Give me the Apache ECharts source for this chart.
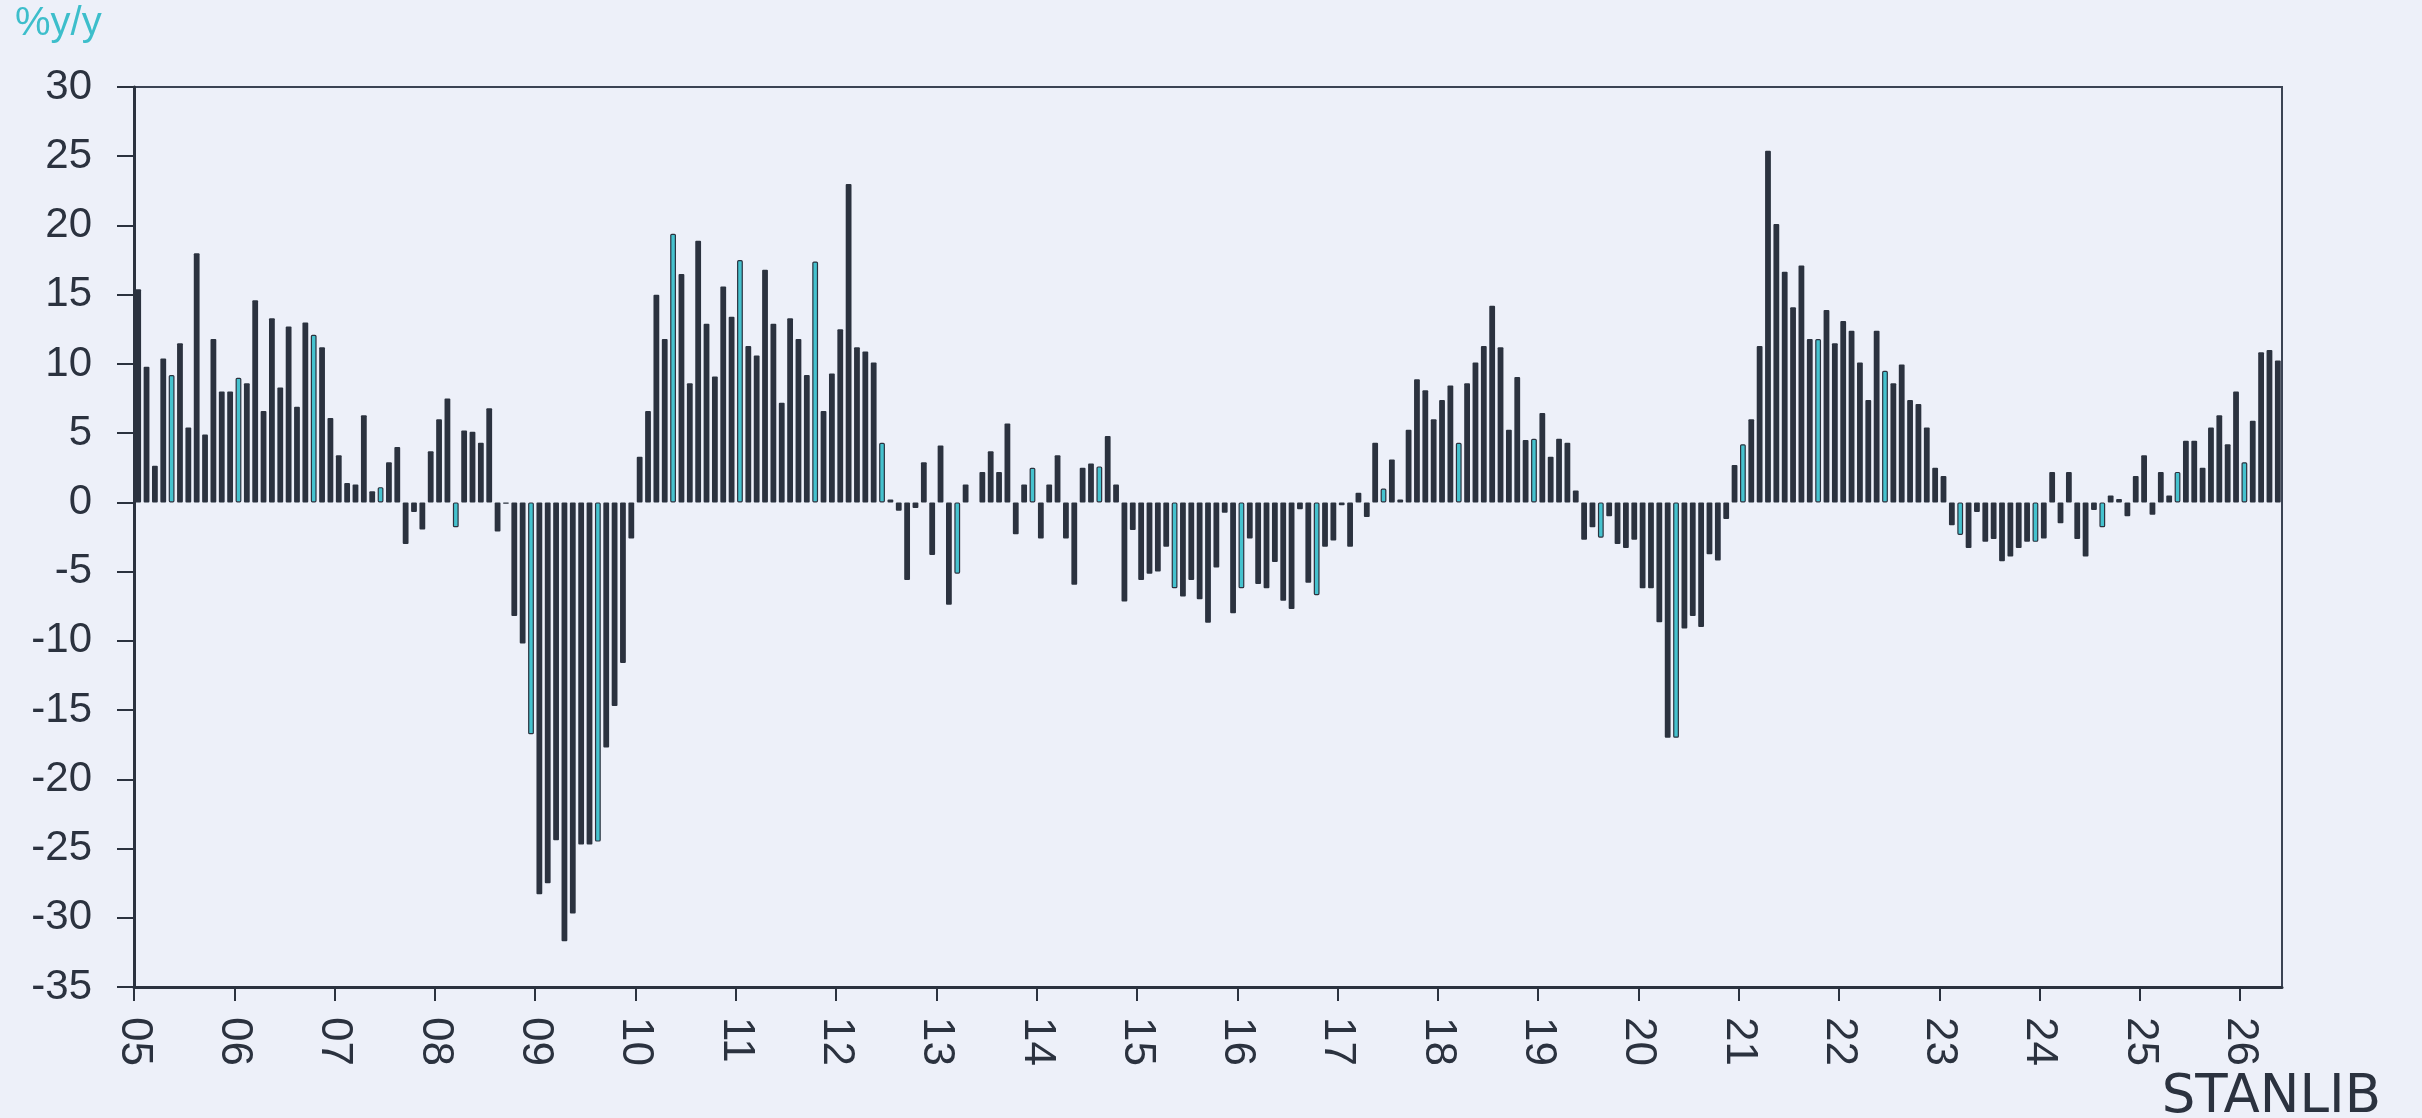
<!DOCTYPE html>
<html>
<head>
<meta charset="utf-8">
<script src="https://cdn.jsdelivr.net/npm/echarts@6/dist/echarts.min.js"></script>
<style>
  html, body { margin: 0; padding: 0; background: #edf0f9; }
  #chart { width: 2422px; height: 1118px; }
</style>
</head>
<body>
<div id="chart"></div>
<script>
// monthly %y/y, Jan 2005 - May 2026
const values = [
  15.4, 9.8, 2.65, 10.4, 9.2, 11.5, 5.4, 18.0, 4.9, 11.8, 8.0, 8.0,
  9.0, 8.6, 14.6, 6.6, 13.3, 8.3, 12.7, 6.9, 13.0, 12.1, 11.2, 6.1,
  3.4, 1.4, 1.3, 6.3, 0.8, 1.1, 2.9, 4.0, -3.0, -0.7, -1.95, 3.7,
  6.0, 7.5, -1.8, 5.2, 5.1, 4.3, 6.8, -2.1, -0.1, -8.2, -10.2, -16.75,
  -28.3, -27.5, -24.4, -31.7, -29.7, -24.7, -24.7, -24.5, -17.7, -14.7, -11.6, -2.6,
  3.3, 6.6, 15.0, 11.8, 19.4, 16.5, 8.6, 18.9, 12.9, 9.1, 15.6, 13.4,
  17.5, 11.3, 10.6, 16.8, 12.9, 7.2, 13.3, 11.8, 9.2, 17.4, 6.6, 9.3,
  12.5, 23.0, 11.2, 10.9, 10.1, 4.3, 0.2, -0.6, -5.6, -0.4, 2.9, -3.8,
  4.1, -7.4, -5.15, 1.3, 0, 2.2, 3.7, 2.2, 5.7, -2.3, 1.3, 2.5,
  -2.6, 1.3, 3.4, -2.6, -5.95, 2.5, 2.8, 2.6, 4.8, 1.3, -7.15, -2.0,
  -5.6, -5.15, -5.0, -3.2, -6.2, -6.8, -5.6, -7.0, -8.7, -4.7, -0.75, -8.0,
  -6.2, -2.6, -5.9, -6.2, -4.3, -7.1, -7.7, -0.5, -5.8, -6.7, -3.2, -2.75,
  -0.2, -3.2, 0.7, -1.05, 4.3, 1.0, 3.1, 0.2, 5.25, 8.9, 8.1, 6.0,
  7.4, 8.45, 4.3, 8.6, 10.1, 11.3, 14.2, 11.2, 5.25, 9.05, 4.5, 4.6,
  6.45, 3.3, 4.6, 4.3, 0.85, -2.7, -1.8, -2.55, -1.0, -3.0, -3.3, -2.7,
  -6.2, -6.2, -8.65, -17.0, -17.0, -9.1, -8.2, -9.0, -3.75, -4.2, -1.2, 2.7,
  4.2, 6.0, 11.3, 25.4, 20.1, 16.65, 14.1, 17.1, 11.8, 11.8, 13.9, 11.5,
  13.1, 12.4, 10.1, 7.4, 12.4, 9.5, 8.6, 9.95, 7.4, 7.1, 5.4, 2.5,
  1.9, -1.65, -2.35, -3.3, -0.7, -2.85, -2.65, -4.25, -3.9, -3.3, -2.85, -2.85,
  -2.6, 2.2, -1.5, 2.2, -2.65, -3.9, -0.55, -1.8, 0.5, 0.25, -1.0, 1.9,
  3.4, -0.9, 2.2, 0.5, 2.2, 4.45, 4.45, 2.5, 5.4, 6.3, 4.2, 8.0,
  2.9, 5.9, 10.85, 11.0, 10.25
];

// bars drawn in teal (month index from Jan 2005)
const highlighted = [4, 12, 21, 29, 38, 47, 55, 64, 72, 81, 89, 98, 107, 115, 124,
  132, 141, 149, 158, 167, 175, 184, 192, 201, 209, 218, 227, 235, 244, 252];

const yearLabels = ['05', '06', '07', '08', '09', '10', '11', '12', '13', '14', '15',
  '16', '17', '18', '19', '20', '21', '22', '23', '24', '25', '26'];

const yTicks = { min: -35, max: 30, step: 5 };

const dark = '#2b323f';
const teal = '#45c2ce';
const font = '"Liberation Sans", Arial, sans-serif';

const yearStarts = yearLabels.map((_, k) => k * 12);

const barData = values.map((v, i) => {
  const item = { value: [i + 0.5, v] };
  if (highlighted.indexOf(i) >= 0) {
    item.itemStyle = { color: teal, borderColor: dark, borderWidth: 1.2 };
  }
  return item;
});

const chart = echarts.init(document.getElementById('chart'), null, { renderer: 'canvas' });

chart.setOption({
  backgroundColor: '#edf0f9',
  animation: false,
  grid: {
    left: 134, right: 140, top: 87, bottom: 131,
    show: true,
    borderColor: '#3b4354',
    borderWidth: 2
  },
  graphic: [
    {
      type: 'text', left: 15, top: 4,
      style: { text: '%y/y', fill: '#3dbecb', font: '40px ' + font }
    },
    {
      type: 'text', x: 2381, y: 1098,
      style: {
        text: 'STANLIB', fill: dark, font: '53px "DejaVu Sans", sans-serif',
        align: 'right', verticalAlign: 'middle'
      }
    }
  ],
  xAxis: {
    type: 'value',
    min: 0,
    max: values.length,
    axisLine: { show: true, onZero: false, lineStyle: { color: dark, width: 3 } },
    axisTick: {
      show: true, length: 14, customValues: yearStarts,
      lineStyle: { color: dark, width: 2 }
    },
    axisLabel: {
      show: true, customValues: yearStarts, rotate: -90, margin: 30,
      fontSize: 44, fontFamily: font, color: dark,
      formatter: v => yearLabels[Math.round(v / 12)]
    },
    splitLine: { show: false }
  },
  yAxis: {
    type: 'value',
    min: yTicks.min,
    max: yTicks.max,
    interval: yTicks.step,
    axisLine: { show: true, lineStyle: { color: dark, width: 3 } },
    axisTick: { show: true, length: 17, lineStyle: { color: dark, width: 2 } },
    axisLabel: { fontSize: 42, fontFamily: font, color: dark, margin: 42 },
    splitLine: { show: false }
  },
  series: [{
    type: 'bar',
    barWidth: 5.8,
    itemStyle: { color: dark, borderRadius: 1 },
    data: barData
  }]
});
</script>
</body>
</html>
